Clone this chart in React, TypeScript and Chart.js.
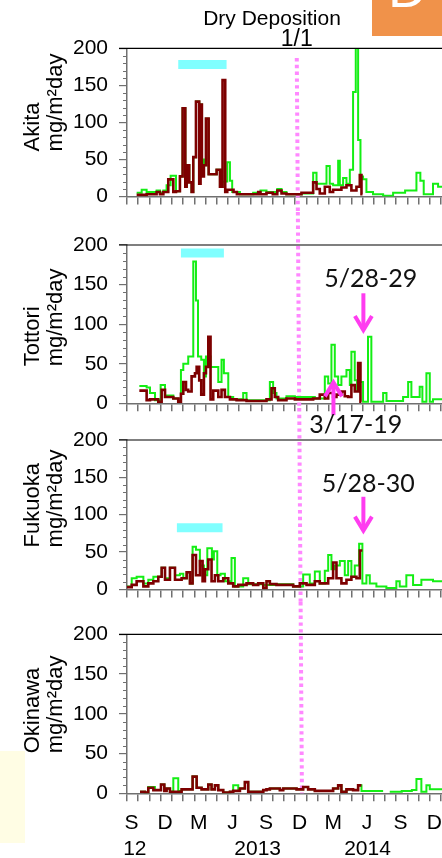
import React, { useEffect, useRef } from "react";
import { Chart, registerables } from "chart.js";

Chart.register(...registerables);

type Pt = [number, number | null];

// x values are months since 1 Sep 2012
const stations = ["Akita", "Tottori", "Fukuoka", "Okinawa"];
const unitLabel = "mg/m²day";
const chartTitle = "Dry Deposition";
const yTickValues = [0, 50, 100, 150, 200];
const monthLetters = ["S", "D", "M", "J", "S", "D", "M", "J", "S", "D"];
const monthLetterMonths = [0, 3, 6, 9, 12, 15, 18, 21, 24, 27];
const yearLabels = ["12", "2013", "2014"];
const yearLabelMonths = [0.7, 11.65, 21.45];
const X_MAX = 28.09;

const akitaGreen: Pt[] = [
  [0.86, 5], [1.31, 9], [1.75, 6], [2.64, 8], [2.94, 5], [3.24, 8], [3.53, 15], [3.89, 28], [4.37, 7], [4.72, 27],
  [4.96, 119], [5.2, 13], [5.32, 42], [5.55, 19], [5.76, 6], [5.91, 53], [6.15, 128], [6.44, 124], [6.68, 50], [6.86, 42],
  [7.04, 105], [7.28, 30], [7.99, 36], [8.29, 13], [8.52, 20], [8.94, 46], [9.18, 21], [9.38, 6], [10.07, 3], [11.25, 5],
  [11.9, 8], [12.44, 6], [13.4, 10], [13.78, 6], [14.22, 3], [15.56, 4], [16.6, 32], [16.9, 17], [17.79, 41], [18.08, 17],
  [18.38, 15], [18.83, 48], [18.98, 15], [19.27, 25], [19.57, 17], [19.87, 36], [20.16, 141], [20.4, 260], [20.61, 76],
  [20.82, 27], [21.05, 23], [21.35, 6], [21.94, 3], [22.84, 1], [23.73, 5], [24.8, 8], [25.81, 32], [26.16, 21],
  [26.46, 3], [27.29, 17], [27.74, 13], [28.2, 13],
];
const akitaRed: Pt[] = [
  [0.86, 2], [1.75, 3], [2.64, 6], [2.94, 3], [3.24, 6], [3.68, 23], [4.13, 6], [4.37, 7], [4.72, 27], [4.96, 119],
  [5.2, 13], [5.32, 42], [5.55, 19], [5.76, 6], [5.91, 53], [6.15, 128], [6.44, 17], [6.56, 124], [6.68, 27], [6.86, 42],
  [7.04, 105], [7.28, 30], [7.99, 36], [8.29, 13], [8.52, 157], [8.76, 6], [8.94, 9], [9.5, 6], [9.8, 3], [11.7, 6],
  [11.9, 3], [12.44, 5], [13.0, 3], [13.4, 8], [13.78, 4], [14.22, 3], [15.56, 5], [16.6, 19], [16.9, 10], [17.19, 4],
  [17.64, 13], [18.08, 6], [18.38, 9], [19.12, 12], [19.57, 15], [20.01, 8], [20.46, 13], [20.76, 29], [20.91, 3], [21.0, 3],
];

const tottoriGreen: Pt[] = [
  [1.1, 22], [1.75, 20], [2.05, 13], [2.5, 4], [3.0, 23], [3.39, 10], [4.13, 6], [4.57, 3], [4.81, 42], [5.02, 50],
  [5.46, 59], [5.91, 179], [6.15, 130], [6.33, 59], [6.62, 55], [6.86, 34], [7.04, 59], [7.45, 46], [7.69, 46], [8.14, 27],
  [8.43, 55], [8.64, 38], [9.03, 8], [9.47, 5], [10.36, 13], [10.66, 4], [12.74, 27], [13.03, 13], [13.33, 6], [14.22, 9],
  [14.97, 8], [16.75, 6], [17.64, 34], [17.94, 25], [18.23, 74], [18.53, 34], [18.83, 23], [19.12, 34], [19.57, 42],
  [19.87, 23], [20.01, 65], [20.31, 29], [20.52, 17], [20.76, 27], [21.05, 2], [21.49, 84], [21.79, 2], [22.84, 13],
  [23.14, 3], [24.62, 8], [25.07, 27], [25.36, 8], [26.1, 21], [26.34, 2], [26.7, 38], [27.0, 2], [27.29, 5], [28.2, 5],
];
const tottoriRed: Pt[] = [
  [1.1, 16], [1.75, 4], [2.05, 5], [2.79, 2], [3.09, 17], [3.39, 8], [4.13, 6], [4.57, 2], [4.81, 12], [5.02, 27],
  [5.26, 17], [5.46, 15], [5.76, 34], [6.06, 38], [6.21, 46], [6.44, 29], [6.62, 11], [6.86, 38], [7.04, 46], [7.25, 84],
  [7.45, 5], [7.69, 16], [8.14, 8], [8.43, 17], [8.73, 8], [9.18, 5], [9.77, 4], [10.66, 3], [12.44, 5], [12.89, 19],
  [13.18, 8], [13.48, 4], [14.22, 6], [14.97, 5], [16.6, 6], [17.19, 11], [17.64, 6], [17.94, 13], [18.38, 8], [18.68, 11],
  [19.12, 15], [19.42, 9], [19.72, 8], [20.01, 23], [20.31, 15], [20.61, 51], [20.82, 2], [20.9, 2],
];

const fukuokaGreen: Pt[] = [
  [0, 4], [0.42, 15], [0.86, 17], [1.46, 8], [1.9, 13], [2.35, 17], [3.09, 29], [3.39, 15], [3.83, 29], [4.28, 19],
  [4.72, 21], [5.02, 15], [5.32, 23], [5.61, 8], [5.85, 57], [6.15, 53], [6.5, 32], [6.86, 19], [7.16, 55], [7.57, 40],
  [7.75, 51], [8.05, 19], [8.34, 21], [8.73, 11], [9.32, 42], [9.62, 4], [10.36, 15], [10.81, 7], [12.15, 6], [13.33, 7],
  [14.82, 4], [15.71, 20], [16.3, 8], [16.75, 24], [17.19, 8], [17.64, 25], [17.94, 46], [18.23, 27], [18.53, 32],
  [18.98, 38], [19.42, 19], [19.72, 38], [20.01, 17], [20.31, 32], [20.7, 61], [20.99, 8], [21.35, 19], [21.65, 8],
  [22.24, 4], [23.13, 2], [24.02, 11], [24.32, 4], [24.91, 19], [25.51, 6], [26.25, 13], [27.29, 11], [28.2, 11],
];
const fukuokaRed: Pt[] = [
  [0, 3], [0.42, 6], [0.86, 11], [1.46, 4], [1.9, 8], [2.35, 11], [2.79, 17], [3.09, 29], [3.39, 13], [3.83, 29],
  [4.28, 13], [4.87, 15], [5.32, 23], [5.61, 8], [5.85, 46], [6.15, 19], [6.5, 38], [6.74, 11], [6.95, 27], [7.25, 40],
  [7.54, 11], [7.84, 19], [8.14, 11], [8.58, 15], [9.03, 8], [9.47, 4], [9.92, 6], [10.66, 8], [11.25, 6], [11.7, 8],
  [12.15, 2], [12.44, 11], [12.74, 7], [13.33, 6], [14.82, 4], [15.41, 8], [16.01, 6], [16.75, 11], [17.19, 8], [17.94, 15],
  [18.38, 36], [18.68, 15], [19.12, 8], [19.57, 13], [20.01, 17], [20.46, 15], [20.76, 52], [20.99, 52],
];

const okinawaGreen: Pt[] = [
  [1.16, 2], [1.6, 1], [1.9, 8], [2.49, 4], [3.03, 11], [3.33, 3], [3.53, 6], [3.83, 2], [4.13, 19], [4.57, 3],
  [4.87, 5], [5.85, 21], [6.21, 7], [6.65, 5], [7.25, 11], [7.54, 5], [7.84, 10], [8.14, 4], [8.58, 1], [9.18, 2],
  [9.47, 10], [9.92, 3], [10.07, 6], [10.51, 14], [10.81, 2], [12.15, 4], [12.44, 5], [12.74, 6], [13.63, 4], [13.93, 6],
  [15.12, 5], [15.71, 8], [16.15, 5], [16.75, 3], [18.38, 6], [18.83, 10], [19.12, 2], [19.57, 5], [20.16, 4], [20.61, 10],
  [20.91, 3], [22.84, 3], [22.85, null], [23.43, 2], [24.5, 3], [25.4, 4], [25.81, 18], [26.25, 2], [26.7, 10], [27.0, 5],
  [28.2, 5],
];
const okinawaRed: Pt[] = [
  [1.16, 2], [1.6, 1], [1.9, 7], [2.35, 4], [3.03, 11], [3.33, 3], [3.53, 6], [3.83, 2], [4.87, 5], [5.85, 21],
  [6.21, 7], [6.65, 5], [7.25, 11], [7.54, 5], [7.84, 10], [8.14, 4], [8.58, 1], [9.18, 2], [9.47, 3], [10.07, 6],
  [10.51, 14], [10.81, 2], [12.15, 4], [12.44, 5], [12.74, 6], [13.63, 4], [13.93, 6], [15.12, 5], [15.71, 8], [16.15, 5],
  [16.75, 3], [18.38, 6], [18.83, 10], [19.12, 2], [19.57, 5], [20.16, 4], [20.61, 10], [20.91, 10],
];

const greenSeries = [akitaGreen, tottoriGreen, fukuokaGreen, okinawaGreen];
const redSeries = [akitaRed, tottoriRed, fukuokaRed, okinawaRed];

// dust period bars: [startMonth, endMonth, level]
const dustBars: ([number, number, number] | null)[] = [
  [4.57, 8.88, 178],
  [4.81, 8.64, 190],
  [4.45, 8.52, 82.5],
  null,
];

// event annotations (panel index, month, value at text baseline)
const eventLabels = [
  { panel: 1, text: "5/28-29", month: 21.74, value: 146.5 },
  { panel: 1, text: "3/17-19", month: 20.4, value: -37 },
  { panel: 2, text: "5/28-30", month: 21.52, value: 130.5 },
];
const eventArrows = [
  { panel: 1, month: 21.08, from: 139, to: 90 },
  { panel: 1, month: 18.41, from: -15, to: 29 },
  { panel: 2, month: 21.08, from: 124, to: 76 },
];
const markerLabel = "1/1";
const markerMonthTop = 15.14;
const markerMonthBottom = 15.6;

// ---------- styles / layout ----------
const SANS = "'Liberation Sans', Arial, sans-serif";
const GREEN = "#14ee14";
const RED = "#7d0000";
const AXIS = "#707070";
const CYAN = "#80ffff";
const MARKER = "#ff88ff";
const ARROW = "#ff3cf0";

const PANELS = [
  { top: 0, height: 220, padTop: 48.3, padBottom: 5.3, titleOffset: 45 },
  { top: 212, height: 228, padTop: 33, padBottom: 28.7, titleOffset: 37 },
  { top: 408, height: 205, padTop: 32, padBottom: 6.7, titleOffset: 42 },
  { top: 602, height: 256, padTop: 32.3, padBottom: 56.7, titleOffset: 40 },
];
const MARKER_PAGE_TOP = 58;
const MARKER_PAGE_BOTTOM = 793.3;

function toXY(pts: Pt[]) {
  return pts.map(([x, y]) => ({ x, y }));
}

function drawArrow(ctx: CanvasRenderingContext2D, x: number, yTail: number, yTip: number) {
  const dir = Math.sign(yTip - yTail);
  ctx.save();
  ctx.strokeStyle = ARROW;
  ctx.lineWidth = 4;
  ctx.lineCap = "butt";
  ctx.lineJoin = "miter";
  ctx.beginPath();
  ctx.moveTo(x, yTail);
  ctx.lineTo(x, yTip - dir * 3);
  ctx.stroke();
  ctx.beginPath();
  ctx.moveTo(x - 8.5, yTip - dir * 16);
  ctx.lineTo(x, yTip - dir * 2);
  ctx.lineTo(x + 8.5, yTip - dir * 16);
  ctx.stroke();
  ctx.restore();
}

function makeChart(canvas: HTMLCanvasElement, idx: number) {
  const p = PANELS[idx];
  const datasets: any[] = [];
  // lower "order" is drawn on top
  datasets.push({
    data: toXY(redSeries[idx]),
    borderColor: RED,
    borderWidth: 2.6,
    stepped: true,
    pointRadius: 0,
    spanGaps: false,
    order: 0,
  });
  datasets.push({
    data: toXY(greenSeries[idx]),
    borderColor: GREEN,
    borderWidth: 2,
    stepped: true,
    pointRadius: 0,
    spanGaps: false,
    order: 1,
  });
  const bar = dustBars[idx];
  if (bar) {
    datasets.push({
      data: [{ x: bar[0], y: bar[2] }, { x: bar[1], y: bar[2] }],
      borderColor: CYAN,
      borderWidth: 9,
      borderCapStyle: "butt",
      pointRadius: 0,
      order: 2,
    });
  }

  const decor = {
    id: "decor" + idx,
    beforeDatasetsDraw(chart: any) {
      const ctx: CanvasRenderingContext2D = chart.ctx;
      const xs = chart.scales.x;
      const ca = chart.chartArea;
      const segStart = idx === 0 ? MARKER_PAGE_TOP : p.top;
      const segEnd = idx === PANELS.length - 1 ? p.top + ca.bottom : PANELS[idx + 1].top;
      const monthAt = (pageY: number) =>
        markerMonthTop +
        ((markerMonthBottom - markerMonthTop) * (pageY - MARKER_PAGE_TOP)) / (MARKER_PAGE_BOTTOM - MARKER_PAGE_TOP);
      ctx.save();
      ctx.strokeStyle = MARKER;
      ctx.lineWidth = 4;
      ctx.setLineDash([3.4, 3.4]);
      ctx.beginPath();
      ctx.moveTo(xs.getPixelForValue(monthAt(segStart)), segStart - p.top);
      ctx.lineTo(xs.getPixelForValue(monthAt(segEnd)), segEnd - p.top);
      ctx.stroke();
      ctx.restore();
    },
    afterDraw(chart: any) {
      const ctx: CanvasRenderingContext2D = chart.ctx;
      const xs = chart.scales.x;
      const ys = chart.scales.y;
      const ca = chart.chartArea;
      ctx.save();
      // minor y ticks
      ctx.strokeStyle = AXIS;
      ctx.lineWidth = 1;
      for (let v = 10; v < 200; v += 10) {
        if (v % 50 === 0) continue;
        const y = Math.round(ys.getPixelForValue(v)) + 0.5;
        ctx.beginPath();
        ctx.moveTo(ca.left - 4, y);
        ctx.lineTo(ca.left, y);
        ctx.stroke();
      }
      // top frame line
      ctx.strokeStyle = "#000";
      ctx.lineWidth = 1.2;
      ctx.beginPath();
      ctx.moveTo(ca.left - 8, ca.top);
      ctx.lineTo(ca.right, ca.top);
      ctx.stroke();

      // y axis titles (rotated)
      ctx.fillStyle = "#000";
      ctx.font = `22px ${SANS}`;
      ctx.textAlign = "left";
      ctx.textBaseline = "alphabetic";
      const y0 = ca.bottom - p.titleOffset;
      ctx.save();
      ctx.translate(38.5, y0);
      ctx.rotate(-Math.PI / 2);
      ctx.fillText(stations[idx], 0, 0);
      ctx.restore();
      ctx.save();
      ctx.translate(61.5, y0);
      ctx.rotate(-Math.PI / 2);
      ctx.fillText(unitLabel, 0, 0);
      ctx.restore();

      if (idx === 0) {
        ctx.textAlign = "center";
        ctx.font = `21px ${SANS}`;
        ctx.fillText(chartTitle, 272, 25);
        ctx.font = `23px ${SANS}`;
        ctx.fillText(markerLabel, xs.getPixelForValue(markerMonthTop), 45.5);
      }

      // arrows and event labels
      eventArrows
        .filter((a) => a.panel === idx)
        .forEach((a) => drawArrow(ctx, xs.getPixelForValue(a.month), ys.getPixelForValue(a.from), ys.getPixelForValue(a.to)));
      ctx.fillStyle = "#111";
      ctx.font = "25px Lato, 'Open Sans', sans-serif";
      ctx.textAlign = "center";
      ctx.textBaseline = "alphabetic";
      eventLabels
        .filter((l) => l.panel === idx)
        .forEach((l) => ctx.fillText(l.text, xs.getPixelForValue(l.month), ys.getPixelForValue(l.value)));

      // bottom x labels
      if (idx === PANELS.length - 1) {
        ctx.fillStyle = "#000";
        ctx.font = `21px ${SANS}`;
        ctx.textAlign = "center";
        ctx.textBaseline = "middle";
        monthLetters.forEach((t, i) => {
          ctx.fillText(t, xs.getPixelForValue(monthLetterMonths[i] + 0.4), ca.bottom + 29.5);
        });
        yearLabels.forEach((t, i) => {
          ctx.fillText(t, xs.getPixelForValue(yearLabelMonths[i]), ca.bottom + 56);
        });
      }
      ctx.restore();
    },
  };

  return new Chart(canvas, {
    type: "line",
    data: { datasets },
    options: {
      responsive: false,
      animation: false,
      events: [],
      layout: { padding: { top: p.padTop, bottom: p.padBottom, left: 0, right: 0 } },
      plugins: { legend: { display: false }, tooltip: { enabled: false }, title: { display: false } },
      scales: {
        x: {
          type: "linear",
          min: 0,
          max: X_MAX,
          ticks: { display: false, stepSize: 1, includeBounds: false },
          grid: { drawOnChartArea: false, tickLength: 8, color: AXIS, lineWidth: 1.5 },
          border: { color: AXIS, width: 1.5 },
          afterFit: (s: any) => {
            s.height = 8;
          },
        },
        y: {
          min: 0,
          max: 200,
          afterBuildTicks: (s: any) => {
            s.ticks = yTickValues.map((v) => ({ value: v }));
          },
          ticks: { font: { family: SANS, size: 21 }, color: "#000", padding: 11 },
          grid: { drawOnChartArea: false, tickLength: 8, color: AXIS, lineWidth: 1.2 },
          border: { color: AXIS, width: 1.5 },
          afterFit: (s: any) => {
            s.width = 127;
          },
        },
      },
    } as any,
    plugins: [decor],
  });
}

export default function App() {
  const canvases = useRef<(HTMLCanvasElement | null)[]>([]);
  useEffect(() => {
    const charts = PANELS.map((_, i) => makeChart(canvases.current[i] as HTMLCanvasElement, i));
    return () => charts.forEach((c) => c.destroy());
  }, []);

  return (
    <div
      style={{
        position: "absolute",
        left: 0,
        top: 0,
        width: 442,
        height: 858,
        overflow: "hidden",
        background: "#fff",
      }}
    >
      {PANELS.map((p, i) => (
        <canvas
          key={i}
          ref={(el) => {
            canvases.current[i] = el;
          }}
          width={442}
          height={p.height}
          style={{ position: "absolute", left: 0, top: p.top, width: 442, height: p.height }}
        />
      ))}
      <div
        style={{
          position: "absolute",
          left: 372,
          top: 0,
          width: 70,
          height: 36,
          background: "#f0924a",
          overflow: "hidden",
        }}
      >
        <span
          style={{
            position: "absolute",
            left: 16,
            top: -39,
            fontFamily: SANS,
            fontSize: 54,
            lineHeight: "54px",
            color: "#fff",
          }}
        >
          D
        </span>
      </div>
      <div style={{ position: "absolute", left: 0, top: 731, width: 24, height: 20, background: "#fff" }} />
      <div style={{ position: "absolute", left: 0, top: 751, width: 25, height: 92, background: "#fffde4" }} />
    </div>
  );
}
